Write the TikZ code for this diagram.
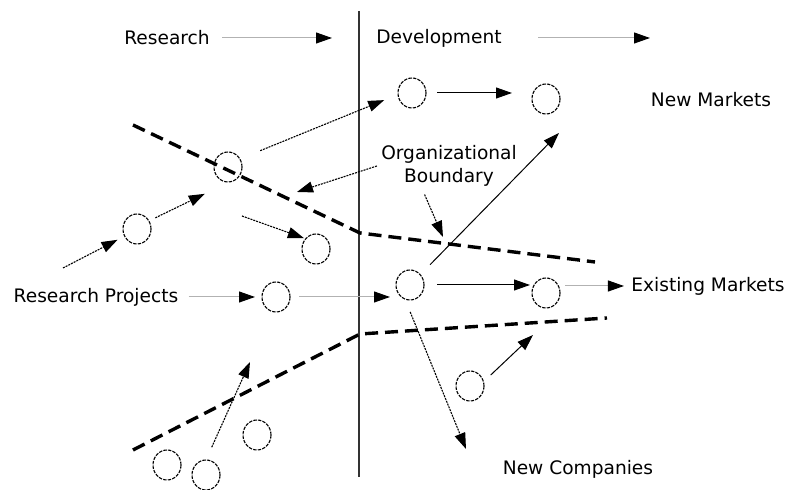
\documentclass[tikz,border=0pt]{standalone}
\usepackage{fontspec}
\setmainfont{DejaVu Sans}
\usetikzlibrary{arrows.meta,shapes.geometric}
\begin{document}
\begin{tikzpicture}[x=0.5pt,y=-0.5pt,
  proj/.style={ellipse,draw,line width=0.55pt,dash pattern=on 1.7pt off 0.6pt,minimum width=14pt,minimum height=15pt,inner sep=0pt,outer sep=0pt},
  lbl/.style={font=\fontsize{9.3}{11.5}\selectfont,inner sep=2pt},
  tip/.style={-{Triangle[length=8pt,width=5.5pt,color=black]}},
  solidarr/.style={tip,line width=0.5pt},
  dotarr/.style={tip,line width=0.55pt,dash pattern=on 1pt off 0.5pt},
  greyarr/.style={tip,line width=0.5pt,draw=gray!60},
  border/.style={line width=1.7pt,dash pattern=on 6.5pt off 3.5pt}]
\useasboundingbox (0,0) rectangle (788,490);
\coordinate (top) at (359,11);
\coordinate (bot) at (359,477);
\draw[line width=0.7pt,draw=black!80] (top) -- (bot);
\node[lbl] (rs) at (167,38) {Research};
\node[lbl] (dv) at (439,38) {Development};
\node[lbl] (nm) at (711,100) {New Markets};
\node[lbl,align=center] (org) at (449,166) {Organizational\\Boundary};
\node[lbl] (rp) at (96,297) {Research Projects};
\node[lbl] (em) at (708,286) {Existing Markets};
\node[lbl] (nc) at (578,469) {New Companies};
\foreach \px/\py/\n in {412/93/c1,546/99/c2,228/167/c3,137/229/c4,316/249/c5,276/297/c6,
  410/285/c7,546/293/c8,470/386/c9,257/435/c10,167/465/c11,206/475/c12}
  \node[proj] (\n) at (\px,\py) {};
\draw[border] (133,125) -- (360,233) -- (595,262);
\draw[border] (133,450) -- (360,334) -- (607,318);
\coordinate (rsend) at (332,38);
\coordinate (dvend) at (650,38);
\coordinate (nmtip) at (559,133);
\coordinate (c9tip) at (533,335);
\coordinate (a5) at (63,268);
\coordinate (a6) at (242,216);
\coordinate (b1) at (297,192);
\coordinate (b2) at (443,237);
\coordinate (nctip) at (466,449);
\coordinate (a15) at (250,362);
\draw[greyarr,shorten <=4pt] (rs.east) -- (rsend);
\draw[greyarr,shorten <=16pt] (dv.east) -- (dvend);
\draw[greyarr,shorten <=3pt,shorten >=3.5pt] (rp.east) -- (c6.west);
\draw[greyarr,shorten <=4.5pt,shorten >=3pt] (c6.east) -- (c6.east -| c7.west);
\draw[greyarr,shorten <=2.5pt,shorten >=1.5pt] (em.west -| c8.east) -- (em.west);
\draw[solidarr,shorten <=5.5pt,shorten >=10pt] (c1.east) -- (c1.east -| c2.west);
\draw[solidarr,shorten <=6.5pt,shorten >=1pt] (c7.east) -- (c7.east -| c8.west);
\draw[solidarr,shorten <=7pt] (c7.45) -- (nmtip);
\draw[solidarr,shorten <=5pt] (c9.17) -- (c9tip);
\draw[dotarr,shorten <=11pt,shorten >=7.5pt] (c3.34) -- (c1.186);
\draw[dotarr,shorten <=3.6pt,shorten >=13.6pt] (c4.34) -- (c3.275);
\draw[dotarr,shorten >=4pt] (a5) -- (c4.210);
\draw[dotarr,shorten >=1pt] (a6) -- (c5.135);
\draw[dotarr] (org.west) -- (b1);
\draw[dotarr,shorten <=2pt] ([xshift=-13pt]org.south) -- (b2);
\draw[dotarr,shorten <=7pt] (c7.250) -- (nctip);
\draw[dotarr,shorten <=7pt] (c12.north) -- (a15);
\end{tikzpicture}
\end{document}
